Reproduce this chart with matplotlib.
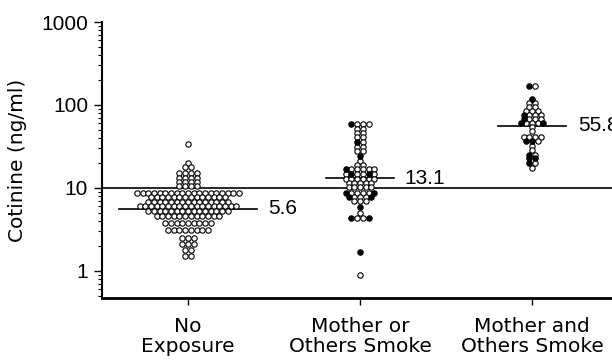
import numpy as np
import matplotlib
matplotlib.use("Agg")
import matplotlib.pyplot as plt
from matplotlib.ticker import LogLocator, NullFormatter, FixedLocator, FixedFormatter

# ---- data -----------------------------------------------------------------
categories = ["No\nExposure", "Mother or\nOthers Smoke", "Mother and\nOthers Smoke"]
medians = [5.6, 13.1, 55.8]
median_labels = ["5.6", "13.1", "55.8"]

# rows of the dot plot: value of the row and dots in it ('o' open, 'x' filled)
g1_values = [34, 20, 18, 15.2, 13.2, 11.7, 10.4, 8.6, 7.7, 6.8, 6.0, 5.3, 4.6,
             3.8, 3.1, 2.5, 2.1, 1.8, 1.5]
g1_rows = ["o", "o", "oo", "oooo", "oooo", "oooo", "oooo", "o" * 19, "o" * 14,
           "o" * 15, "o" * 18, "o" * 15, "o" * 12, "o" * 9, "o" * 8, "ooo",
           "ooo", "oo", "oo"]

g2_values = [58.5, 51, 45.6, 40.8, 35.5, 31.5, 28, 24.3, 20.8, 18.9, 16.8, 14.8,
             12.7, 11.4, 10.2, 8.6, 7.7, 6.85, 5.95, 4.95, 4.3, 1.68, 0.9]
g2_rows = ["xooo", "oo", "oo", "oo", "xo", "oo", "oo", "x", "o", "oo", "xooooo",
           "oxooxo", "oooooo", "ooooo", "ooooo", "xoooox", "xooox", "ooo", "x",
           "o", "xoox", "x", "o"]

g3_values = [171, 117, 105, 94, 84, 76, 67, 60, 54, 48.6, 41.5, 37, 32, 28.7,
             25, 22.8, 20.2, 17.3]
g3_rows = ["xo", "x", "oo", "oo", "ooo", "xooo", "xooo", "xooox", "o", "o",
           "oooo", "xxo", "o", "o", "xo", "xx", "xo", "o"]

yticks = [1, 10, 100, 1000]
ytick_labels = ["1", "10", "100", "1000"]
reference_level = 10

# ---- figure ---------------------------------------------------------------
NUM_FONT = ["Liberation Sans", "DejaVu Sans"]
WORD_FONT = ["DejaVu Sans"]
plt.rcParams["font.family"] = NUM_FONT
fig = plt.figure(figsize=(6.12, 3.62), dpi=100)
ax = fig.add_axes([102 / 612, 64 / 362, 510 / 612, 276 / 362])
ax.set_yscale("log")
ax.set_ylim(0.47, 1000)
ax.set_xlim(-0.5, 2.465)

dx = 0.033
groups = [(g1_values, g1_rows), (g2_values, g2_rows), (g3_values, g3_rows)]
half_widths = [0.40, 0.20, 0.20]
label_offsets = [0.465, 0.26, 0.27]

ax.axhline(reference_level, color="black", lw=1.2, zorder=1)

for gi, (vals, rows) in enumerate(groups):
    xo, yo, xf, yf = [], [], [], []
    for v, pat in zip(vals, rows):
        n = len(pat)
        for i, ch in enumerate(pat):
            x = gi + (i - (n - 1) / 2) * dx
            if ch == "x":
                xf.append(x); yf.append(v)
            else:
                xo.append(x); yo.append(v)
    ax.plot([gi - half_widths[gi], gi + half_widths[gi]], [medians[gi]] * 2,
            color="black", lw=1.2, zorder=2)
    ax.scatter(xo, yo, s=15, facecolor="white", edgecolor="black", lw=0.8, zorder=3)
    ax.scatter(xf, yf, s=15, facecolor="black", edgecolor="black", lw=0.8, zorder=3)
    ax.text(gi + label_offsets[gi], medians[gi], median_labels[gi], fontsize=15,
            va="center", ha="left", clip_on=False)

for s in ["top", "right"]:
    ax.spines[s].set_visible(False)
ax.spines["left"].set_linewidth(1.5)
ax.spines["bottom"].set_linewidth(2.0)

ax.yaxis.set_major_locator(FixedLocator(yticks))
ax.yaxis.set_major_formatter(FixedFormatter(ytick_labels))
ax.yaxis.set_minor_locator(LogLocator(base=10, subs=np.arange(2, 10)))
ax.yaxis.set_minor_formatter(NullFormatter())
ax.tick_params(axis="y", which="major", length=6, width=1, labelsize=15, pad=4)
ax.tick_params(axis="y", which="minor", length=3, width=0.8)

ax.set_xticks(range(len(categories)))
ax.set_xticklabels(categories, fontsize=14.5, linespacing=1.05, family=WORD_FONT)
ax.tick_params(axis="x", which="major", length=5, width=1, pad=9)

ax.set_ylabel("Cotinine (ng/ml)", fontsize=14.5, labelpad=10.5, family=WORD_FONT)

fig.savefig("out.png", dpi=100)
